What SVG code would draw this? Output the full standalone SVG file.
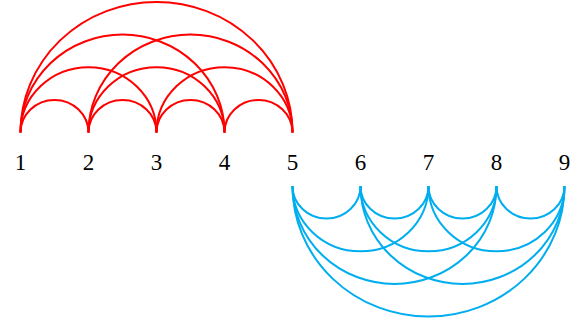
<svg xmlns="http://www.w3.org/2000/svg" width="583" height="326" viewBox="0 0 583 326">
<style>
.r{fill:none;stroke:#ff0000;stroke-width:2}
.b{fill:none;stroke:#00aeef;stroke-width:2}
text{font-family:"Liberation Serif","DejaVu Serif",serif;font-size:23px;fill:#000;text-anchor:middle}
</style>
<rect width="583" height="326" fill="#fff"/>
<g id="connectors">
<g id="red">
<path class="r" d="M20.5 132.5 A34 32.6 0 0 1 88.5 132.5"/>
<path class="r" d="M88.5 132.5 A34 32.6 0 0 1 156.5 132.5"/>
<path class="r" d="M156.5 132.5 A34 32.6 0 0 1 224.5 132.5"/>
<path class="r" d="M224.5 132.5 A34 32.6 0 0 1 292.5 132.5"/>
<path class="r" d="M20.5 132.5 A68 65.3 0 0 1 156.5 132.5"/>
<path class="r" d="M88.5 132.5 A68 65.3 0 0 1 224.5 132.5"/>
<path class="r" d="M156.5 132.5 A68 65.3 0 0 1 292.5 132.5"/>
<path class="r" d="M20.5 132.5 A102 97.9 0 0 1 224.5 132.5"/>
<path class="r" d="M88.5 132.5 A102 97.9 0 0 1 292.5 132.5"/>
<path class="r" d="M20.5 132.5 A136 130.6 0 0 1 292.5 132.5"/>
</g>
<g id="blue">
<path class="b" d="M292.5 186 A34 32.6 0 0 0 360.5 186"/>
<path class="b" d="M360.5 186 A34 32.6 0 0 0 428.5 186"/>
<path class="b" d="M428.5 186 A34 32.6 0 0 0 496.5 186"/>
<path class="b" d="M496.5 186 A34 32.6 0 0 0 564.5 186"/>
<path class="b" d="M292.5 186 A68 65.3 0 0 0 428.5 186"/>
<path class="b" d="M360.5 186 A68 65.3 0 0 0 496.5 186"/>
<path class="b" d="M428.5 186 A68 65.3 0 0 0 564.5 186"/>
<path class="b" d="M292.5 186 A102 97.9 0 0 0 496.5 186"/>
<path class="b" d="M360.5 186 A102 97.9 0 0 0 564.5 186"/>
<path class="b" d="M292.5 186 A136 130.6 0 0 0 564.5 186"/>
</g>
</g>
<g id="n1"><text x="20.5" y="170">1</text></g>
<g id="n2"><text x="88.5" y="170">2</text></g>
<g id="n3"><text x="156.5" y="170">3</text></g>
<g id="n4"><text x="224.5" y="170">4</text></g>
<g id="n5"><text x="292.5" y="170">5</text></g>
<g id="n6"><text x="360.5" y="170">6</text></g>
<g id="n7"><text x="428.5" y="170">7</text></g>
<g id="n8"><text x="496.5" y="170">8</text></g>
<g id="n9"><text x="564.5" y="170">9</text></g>
</svg>
